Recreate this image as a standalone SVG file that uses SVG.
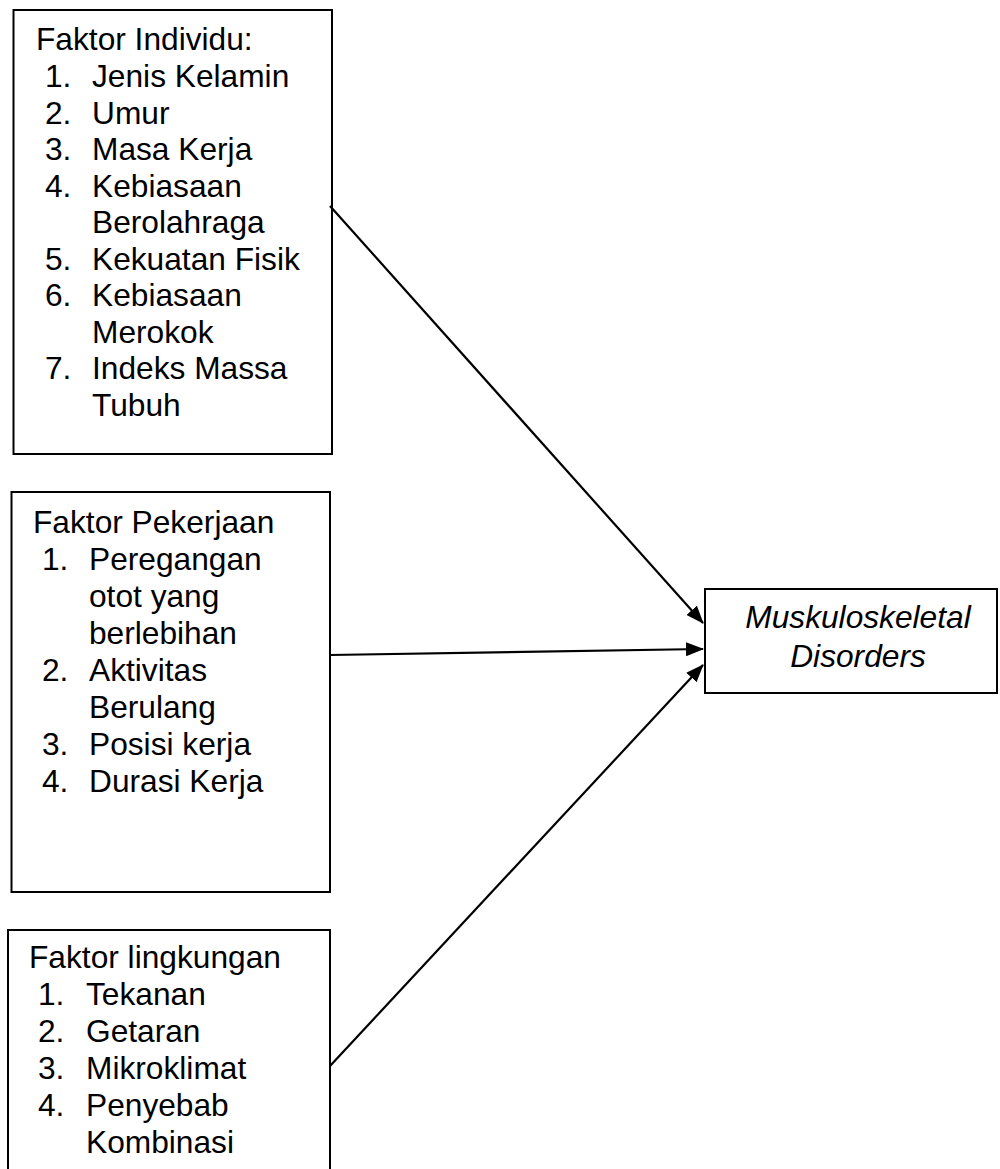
<svg xmlns="http://www.w3.org/2000/svg" width="1000" height="1169" viewBox="0 0 1000 1169">
<style>
.box{fill:#fff;stroke:#000;stroke-width:2}
.t{font-family:"Liberation Sans",Arial,sans-serif;font-size:31.7px;fill:#000}
.i{font-style:italic}
.c{fill:none;stroke:#000;stroke-width:2.2}
</style>
<defs>
<marker id="ah" viewBox="0 0 18 14" refX="17" refY="7" markerWidth="18" markerHeight="14" markerUnits="userSpaceOnUse" orient="auto">
<path d="M0,0 L18,7 L0,14 z" fill="#000"/>
</marker>
</defs>
<rect width="1000" height="1169" fill="#fff"/>
<g id="n1">
<rect class="box" x="13.5" y="10" width="318.5" height="444"/>
<text class="t" x="36" y="50">Faktor Individu:</text>
<text class="t" x="45" y="87">1.</text><text class="t" x="92" y="87">Jenis Kelamin</text>
<text class="t" x="45" y="123.5">2.</text><text class="t" x="92" y="123.5">Umur</text>
<text class="t" x="45" y="160">3.</text><text class="t" x="92" y="160">Masa Kerja</text>
<text class="t" x="45" y="196.5">4.</text><text class="t" x="92" y="196.5">Kebiasaan</text>
<text class="t" x="92" y="233">Berolahraga</text>
<text class="t" x="45" y="269.5">5.</text><text class="t" x="92" y="269.5">Kekuatan Fisik</text>
<text class="t" x="45" y="306">6.</text><text class="t" x="92" y="306">Kebiasaan</text>
<text class="t" x="92" y="342.5">Merokok</text>
<text class="t" x="45" y="379">7.</text><text class="t" x="92" y="379">Indeks Massa</text>
<text class="t" x="92" y="415.5">Tubuh</text>
</g>
<g id="n2">
<rect class="box" x="11.5" y="492" width="318.5" height="400"/>
<text class="t" x="33" y="533">Faktor Pekerjaan</text>
<text class="t" x="42" y="570">1.</text><text class="t" x="89" y="570">Peregangan</text>
<text class="t" x="89" y="607">otot yang</text>
<text class="t" x="89" y="644">berlebihan</text>
<text class="t" x="42" y="681">2.</text><text class="t" x="89" y="681">Aktivitas</text>
<text class="t" x="89" y="718">Berulang</text>
<text class="t" x="42" y="755">3.</text><text class="t" x="89" y="755">Posisi kerja</text>
<text class="t" x="42" y="792">4.</text><text class="t" x="89" y="792">Durasi Kerja</text>
</g>
<g id="n3">
<rect class="box" x="8" y="930" width="322" height="260"/>
<text class="t" x="29" y="968">Faktor lingkungan</text>
<text class="t" x="38" y="1005">1.</text><text class="t" x="86" y="1005">Tekanan</text>
<text class="t" x="38" y="1042">2.</text><text class="t" x="86" y="1042">Getaran</text>
<text class="t" x="38" y="1079">3.</text><text class="t" x="86" y="1079">Mikroklimat</text>
<text class="t" x="38" y="1116">4.</text><text class="t" x="86" y="1116">Penyebab</text>
<text class="t" x="86" y="1153">Kombinasi</text>
</g>
<g id="n4">
<rect class="box" x="705" y="589" width="292" height="104"/>
<text class="t i" x="858" y="628" text-anchor="middle">Muskuloskeletal</text>
<text class="t i" x="858" y="667" text-anchor="middle">Disorders</text>
</g>
<g id="connectors">
<line class="c" x1="330" y1="206" x2="703" y2="623" marker-end="url(#ah)"/>
<line class="c" x1="330" y1="655" x2="703" y2="649" marker-end="url(#ah)"/>
<line class="c" x1="330" y1="1066" x2="703" y2="665" marker-end="url(#ah)"/>
</g>
</svg>
